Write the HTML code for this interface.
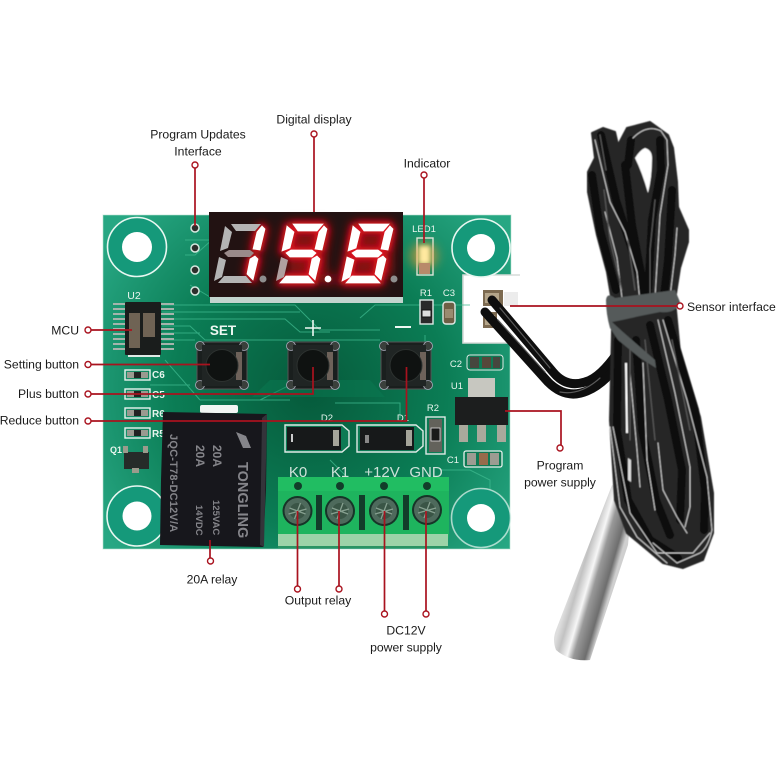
<!DOCTYPE html>
<html><head><meta charset="utf-8"><style>
html,body{margin:0;padding:0;background:#fff;width:779px;height:779px;overflow:hidden}
svg{display:block}
text{font-family:"Liberation Sans",sans-serif}
.l{font-size:12.2px;fill:#1a1a1a}
.s{fill:#e8f5ee;font-size:9.5px}
.p{stroke:#a9121e;stroke-width:1.7;fill:none}
.c{stroke:#a9121e;stroke-width:1.4;fill:#fff}
.tr{stroke:#3fb98f;stroke-width:1;fill:none;opacity:.75}
.rl{fill:#85858a;font-weight:bold}
.wire{fill:none;stroke:#0e0e0e;stroke-linecap:round;stroke-linejoin:round}
.hl{fill:none;stroke:#cfcfcf;stroke-width:1;stroke-linecap:round;stroke-linejoin:round}
.hg{fill:none;stroke:#5a5a5a;stroke-width:1.2;stroke-linecap:round;stroke-linejoin:round}
.dk{fill:none;stroke:#070707;stroke-width:8;stroke-linecap:round;stroke-linejoin:round}
</style></head><body>
<svg width="779" height="779" viewBox="0 0 779 779" xmlns="http://www.w3.org/2000/svg">
<defs>
<radialGradient id="pcb" gradientUnits="userSpaceOnUse" cx="310" cy="390" r="250">
<stop offset="0" stop-color="#065a3b"/><stop offset=".55" stop-color="#0b7d55"/><stop offset="1" stop-color="#27a783"/></radialGradient>
<linearGradient id="probe" gradientUnits="userSpaceOnUse" x1="577" y1="565" x2="615" y2="576">
<stop offset="0" stop-color="#dedede"/><stop offset=".17" stop-color="#c2c2c2"/><stop offset=".4" stop-color="#f6f6f6"/><stop offset=".56" stop-color="#999"/><stop offset=".85" stop-color="#6e6e6e"/><stop offset="1" stop-color="#cfcfcf"/></linearGradient>
<filter id="b8" x="-50%" y="-50%" width="200%" height="200%"><feGaussianBlur stdDeviation="5"/></filter>
<filter id="b6" x="-50%" y="-50%" width="200%" height="200%"><feGaussianBlur stdDeviation="3"/></filter>
<filter id="b2" x="-50%" y="-50%" width="200%" height="200%"><feGaussianBlur stdDeviation="2"/></filter>
<filter id="soft" x="-5%" y="-5%" width="110%" height="110%"><feGaussianBlur stdDeviation=".55"/></filter>
<polygon id="a" points="231,224 261,224 255,231 236,231"/>
<polygon id="f" points="225,226 232,232 228,248 220,251"/>
<polygon id="e" points="219,257 226,260 222,277 214,281"/>
<polygon id="g" points="224,253 229,250 250,250 254,253 250,257 228,257"/>
<polygon id="b" points="262,226 265,229 260,250 253,249 257,232"/>
<polygon id="cc" points="255,256 258,259 253,280 247,274 250,259"/>
<polygon id="d" points="224,276 246,276 252,283 218,283"/>
<g id="btn">
<rect x="0" y="0" width="50" height="47" rx="3" fill="#1a1f1e" stroke="#555" stroke-width="1"/>
<circle cx="3" cy="4" r="4.5" fill="#3a403c" stroke="#aab" stroke-width=".8"/><circle cx="47" cy="4" r="4.5" fill="#3a403c" stroke="#aab" stroke-width=".8"/>
<circle cx="3" cy="43" r="4.5" fill="#3a403c" stroke="#aab" stroke-width=".8"/><circle cx="47" cy="43" r="4.5" fill="#3a403c" stroke="#aab" stroke-width=".8"/>
<rect x="5" y="3" width="40" height="41" fill="#202524"/>
<rect x="39" y="10" width="6" height="28" fill="#6e625a"/>
<circle cx="25" cy="23.5" r="16" fill="#0f1211" stroke="#2d3230" stroke-width="1"/>
</g>
<g id="smd"><rect x="0" y="0" width="25" height="10" fill="none" stroke="#e8f2ee" stroke-width="1.4"/><rect x="2" y="2" width="7" height="6" fill="#9a9a90"/><rect x="16" y="2" width="7" height="6" fill="#9a9a90"/><rect x="9" y="2" width="7" height="6" fill="#222"/></g>
<g id="sc"><circle r="15" fill="#173428"/><circle r="13" fill="#4e6a5c"/><circle r="8" fill="#3a5546"/><path d="M-8 -3L8 3M-3 8L3 -8M-9 3L9 -2" stroke="#87a090" stroke-width="1.3"/></g>
</defs>

<!-- PCB -->
<path d="M103 215 H511 V276 H463 V343 H510 V549 H103 Z" fill="url(#pcb)"/>
<path d="M103 215 H511 V276 H463 V343 H510 V549 H103 Z" fill="none" stroke="#b6e3d1" stroke-width="1" opacity=".6"/>
<!-- connector -->
<path d="M463 275 H520 V343 H463 Z" fill="#fff"/>
<path d="M520 275 H463 V343 H520" fill="none" stroke="#d6dbd8" stroke-width="1.6"/>
<rect x="483" y="290" width="20" height="16" fill="#7c6a50"/><rect x="485" y="293" width="14" height="10" fill="#b4a58a"/>
<rect x="483" y="312" width="14" height="16" fill="#7c6a50"/><rect x="485" y="315" width="10" height="10" fill="#b4a58a"/>
<rect x="504" y="292" width="14" height="14" fill="#ececec"/>

<!-- traces -->
<path class="tr" d="M162 305 H295 L320 330 H380M162 312 H300 M162 319 H285 L300 332 H330M162 326 H190 L205 340 H380M162 333 H200M162 340 H195 M185 240 H250 M185 255 H195 L240 215M190 285 L215 300M360 318 L375 305 H470M330 460 L350 480M335 403 H400 V418M440 470 H470 L490 480V500M150 385 H190M165 360 L200 400M200 400 H290M260 400 L300 380M425 335 V345"/>
<path d="M252 397 L270 380 H370 L385 397Z" fill="#0a7a52" opacity=".5"/>

<!-- mounting holes -->
<g fill="#15997a" stroke="#e8f7f1" stroke-width="1.6">
<circle cx="137" cy="247" r="29.5"/><circle cx="481" cy="248" r="29"/><circle cx="137" cy="516" r="30"/><circle cx="481" cy="518" r="29.5" stroke-opacity=".7"/></g>
<g fill="#fff"><circle cx="137" cy="247" r="15"/><circle cx="481" cy="248" r="14"/><circle cx="137" cy="516" r="14.5"/><circle cx="481" cy="518" r="14"/></g>

<!-- header pads -->
<g fill="#2d2f2c" stroke="#d5e8df" stroke-width="1.5"><circle cx="195" cy="228" r="4"/><circle cx="195" cy="248" r="4"/><circle cx="195" cy="270" r="4"/><circle cx="195" cy="291" r="4"/></g>

<!-- display -->
<rect x="210" y="297" width="193" height="6" fill="#c3d4ce"/>
<rect x="209" y="212" width="194" height="85" fill="#221212"/>
<rect x="288" y="232" width="38" height="44" fill="#7a1519" filter="url(#b8)"/>
<rect x="354" y="232" width="38" height="44" fill="#7a1519" filter="url(#b8)"/>
<g filter="url(#b8)" fill="#b01018" stroke="#c00e18" stroke-width="5">
<use href="#b"/><use href="#cc"/>
<g transform="translate(62,0)"><use href="#a"/><use href="#f"/><use href="#g"/><use href="#b"/><use href="#cc"/><use href="#d"/><circle cx="266" cy="279" r="3"/></g>
<g transform="translate(128,0)"><use href="#a"/><use href="#f"/><use href="#e"/><use href="#g"/><use href="#b"/><use href="#cc"/><use href="#d"/></g>
</g>
<g filter="url(#b6)" fill="#e01420" stroke="#e01420" stroke-width="3">
<use href="#b"/><use href="#cc"/>
<g transform="translate(62,0)"><use href="#a"/><use href="#f"/><use href="#g"/><use href="#b"/><use href="#cc"/><use href="#d"/></g>
<g transform="translate(128,0)"><use href="#a"/><use href="#f"/><use href="#e"/><use href="#g"/><use href="#b"/><use href="#cc"/><use href="#d"/></g>
</g>
<g fill="#b4b4b4"><use href="#a"/><use href="#f"/><use href="#e"/><use href="#d"/><use href="#g" fill="#9a8a8a"/><circle cx="263" cy="279" r="3.5" fill="#8e8e8e"/>
<use href="#e" transform="translate(62,0)" fill="#b0a0a0"/>
<circle cx="394" cy="279" r="3.5" fill="#8e8e8e"/></g>
<g fill="#fff" stroke="#fff" stroke-width=".8">
<use href="#b"/><use href="#cc"/>
<g transform="translate(62,0)"><use href="#a"/><use href="#f"/><use href="#g"/><use href="#b"/><use href="#cc"/><use href="#d"/><circle cx="266" cy="279" r="3"/></g>
<g transform="translate(128,0)"><use href="#a"/><use href="#f"/><use href="#e"/><use href="#g"/><use href="#b"/><use href="#cc"/><use href="#d"/></g>
</g>

<!-- LED -->
<rect x="417" y="238" width="16" height="37" fill="none" stroke="#dbe9e2" stroke-width="1.4"/>
<circle cx="424" cy="256" r="14" fill="#ff9a2e" opacity=".55" filter="url(#b8)"/>
<rect x="419" y="246" width="11" height="18" fill="#ffe9a0" filter="url(#b2)"/>
<rect x="419" y="263" width="11" height="11" fill="#b88a6a"/>
<text class="s" x="424" y="232" text-anchor="middle" font-size="10">LED1</text>

<!-- R1 C3 -->
<rect x="420" y="300" width="13" height="24" fill="#2a2a2a" stroke="#dfe9e5" stroke-width="1.4"/><rect x="422" y="310" width="9" height="7" fill="#ddd" stroke="#111"/>
<rect x="443" y="302" width="12" height="22" rx="3" fill="#6e5f45" stroke="#dfe9e5" stroke-width="1.4"/><rect x="445" y="309" width="8" height="9" fill="#9a8b70"/>
<text class="s" x="426" y="296" text-anchor="middle">R1</text><text class="s" x="449" y="296" text-anchor="middle">C3</text>

<!-- U2 -->
<g fill="#a4b4ac"><rect x="113" y="303" width="13" height="2"/><rect x="113" y="308" width="13" height="2"/><rect x="113" y="313" width="13" height="2"/><rect x="113" y="318" width="13" height="2"/><rect x="113" y="323" width="13" height="2"/><rect x="113" y="328" width="13" height="2"/><rect x="113" y="333" width="13" height="2"/><rect x="113" y="338" width="13" height="2"/><rect x="113" y="343" width="13" height="2"/><rect x="113" y="348" width="13" height="2"/>
<rect x="160" y="303" width="14" height="2"/><rect x="160" y="308" width="14" height="2"/><rect x="160" y="313" width="14" height="2"/><rect x="160" y="318" width="14" height="2"/><rect x="160" y="323" width="14" height="2"/><rect x="160" y="328" width="14" height="2"/><rect x="160" y="333" width="14" height="2"/><rect x="160" y="338" width="14" height="2"/><rect x="160" y="343" width="14" height="2"/><rect x="160" y="348" width="14" height="2"/></g>
<rect x="125" y="302" width="36" height="53" rx="1" fill="#1a1d1c"/>
<rect x="129" y="313" width="11" height="35" fill="#6f6354"/><rect x="143" y="313" width="12" height="24" fill="#6f6354"/>
<text x="134" y="299" text-anchor="middle" fill="#e8f5ee" font-size="10.5">U2</text>
<rect x="128" y="355" width="32" height="2" fill="#dfe9e5"/>

<text x="223" y="335" text-anchor="middle" fill="#eef8f3" font-size="13.5" font-weight="bold">SET</text>
<path d="M305 328 H321 M313 320 V336" stroke="#eef8f3" stroke-width="1.6" fill="none"/>
<path d="M395 327 H411" stroke="#eef8f3" stroke-width="2" fill="none"/>

<!-- buttons -->
<use href="#btn" x="197" y="342"/><use href="#btn" x="288" y="342"/><use href="#btn" x="381" y="342"/>

<!-- small parts left -->
<use href="#smd" x="125" y="370"/><use href="#smd" x="125" y="389"/><use href="#smd" x="125" y="408"/><use href="#smd" x="125" y="428"/>
<g fill="#e8f5ee" font-size="10" font-weight="bold"><text x="152" y="378">C6</text><text x="152" y="398">C5</text><text x="152" y="417">R6</text><text x="152" y="437">R5</text><text x="110" y="453" font-size="9">Q1</text></g>
<rect x="124" y="452" width="25" height="17" fill="#262b29"/><rect x="123" y="446" width="5" height="7" fill="#9b9b8c"/><rect x="143" y="446" width="5" height="7" fill="#9b9b8c"/><rect x="132" y="468" width="7" height="5" fill="#9b9b8c"/>
<rect x="200" y="405" width="38" height="8" rx="2" fill="#f1f5f3"/>

<!-- relay -->
<path d="M163 412 L267 414 L266 490 L263 547 L160 545 L161 480 Z" fill="#17171c"/>
<path d="M267 414 L262 418 L260 545 L264 547Z" fill="#34343a"/>
<g class="rl">
<text transform="translate(238,462) rotate(90)" font-size="14.5">TONGLING</text>
<text transform="translate(213,445) rotate(90)" font-size="12">20A</text>
<text transform="translate(213,500) rotate(90)" font-size="9.5">125VAC</text>
<text transform="translate(196,445) rotate(90)" font-size="12">20A</text>
<text transform="translate(196,505) rotate(90)" font-size="9.5">14VDC</text>
<text transform="translate(170,434) rotate(90)" font-size="11" letter-spacing=".2">JQC-T78-DC12V/A</text>
</g>
<path d="M236 432 L243 448 H251 L246 436 Z M241 432 L252 446" fill="#85858a"/>

<!-- diodes -->
<path d="M285 425 H342 L349 431 V446 L342 452 H285 Z" fill="#0d7a54" stroke="#dfe9e5" stroke-width="1.4"/>
<path d="M357 425 H416 L423 431 V446 L416 452 H357 Z" fill="#0d7a54" stroke="#dfe9e5" stroke-width="1.4"/>
<rect x="287" y="427" width="54" height="23" fill="#17191a"/><rect x="360" y="427" width="54" height="23" fill="#17191a"/>
<rect x="333" y="430" width="6" height="16" fill="#a5a59a"/><rect x="406" y="430" width="6" height="16" fill="#a5a59a"/><rect x="365" y="435" width="4" height="8" fill="#888"/><rect x="291" y="434" width="2" height="8" fill="#ccc"/>
<text class="s" x="327" y="421" text-anchor="middle" font-size="10">D2</text><text class="s" x="403" y="421" text-anchor="middle" font-size="10">D1</text>
<rect x="426" y="417" width="19" height="37" fill="none" stroke="#dfe9e5" stroke-width="1.4"/><rect x="429" y="419" width="13" height="33" fill="#63625b"/><rect x="431" y="428" width="9" height="13" fill="#1a1a1a" stroke="#ddd" stroke-width=".8"/>
<text class="s" x="433" y="411" text-anchor="middle">R2</text>

<!-- U1 -->
<rect x="468" y="378" width="27" height="20" fill="#c7c7c0"/>
<rect x="455" y="397" width="53" height="28" fill="#1c1e1e"/>
<rect x="459" y="425" width="9" height="17" fill="#a9a99c"/><rect x="477" y="425" width="9" height="17" fill="#a9a99c"/><rect x="497" y="425" width="9" height="17" fill="#a9a99c"/>
<text class="s" x="457" y="389" text-anchor="middle">U1</text>
<rect x="467" y="355" width="36" height="15" rx="3" fill="#0d7a54" stroke="#dfe9e5" stroke-width="1"/><rect x="470" y="357" width="9" height="11" fill="#46463e"/><rect x="482" y="357" width="9" height="11" fill="#57473a"/><rect x="493" y="357" width="7" height="11" fill="#46463e"/>
<text class="s" x="456" y="367" text-anchor="middle">C2</text>
<rect x="464" y="451" width="38" height="16" rx="2" fill="#0d7a54" stroke="#e8f2ee" stroke-width="1.3"/><rect x="467" y="453" width="9" height="12" fill="#9c9c92"/><rect x="479" y="453" width="9" height="12" fill="#966b4b"/><rect x="490" y="453" width="9" height="12" fill="#9c9c92"/>
<text class="s" x="453" y="463" text-anchor="middle">C1</text>

<!-- terminal -->
<path d="M278 477 H449 V534 L447 548 H278 Z" fill="#1eb45e"/>
<rect x="278" y="477" width="171" height="14" fill="#21bd62"/>
<rect x="278" y="534" width="170" height="13" fill="#9cd3a8"/>
<rect x="278" y="546" width="170" height="2" fill="#2a9463"/>
<g fill="#123d2a"><circle cx="298" cy="486" r="4"/><circle cx="340" cy="486" r="4"/><circle cx="384" cy="486" r="4"/><circle cx="427" cy="486" r="4"/><rect x="316" y="495" width="6" height="35"/><rect x="359" y="495" width="6" height="35"/><rect x="403" y="495" width="6" height="35"/></g>
<use href="#sc" x="297.5" y="511"/><use href="#sc" x="340" y="511"/><use href="#sc" x="384" y="511"/><use href="#sc" x="427" y="510"/>
<g fill="#cfe2d9" font-size="15" text-anchor="middle"><text x="298" y="477">K0</text><text x="340" y="477">K1</text><text x="382" y="477">+12V</text><text x="426" y="477">GND</text></g>

<!-- short cable -->
<path class="wire" stroke-width="9" d="M492 300 L553 372 Q566 388 585 382 Q600 378 618 352"/>
<path class="wire" stroke-width="9" d="M485 312 L548 382 Q566 400 587 391 Q604 384 620 362"/>
<path class="hg" d="M498 320 L545 372 M500 308 L550 368 M560 392 Q580 396 600 378"/>

<!-- probe -->
<path d="M612 485 L632 500 L628 545 L590 660 Q570 662 556 650 Q552 640 556 630 Z" fill="url(#probe)"/>

<!-- cable bundle -->
<g filter="url(#soft)">
<path d="M592 133 L603 128 L615 132 L618 145 L627 128 L650 122 L668 135 L673 148 L677 182 L678 207 L688 230 L688 242 L680 268 L675 300 L680 353 L700 417 L713 493 L713 533 L703 560 L683 568 L663 563 L627 533 L615 500 L610 420 L612 333 L612 302 L607 272 L597 235 L588 192 L588 172 L595 158 Z" fill="#262626" stroke="#262626" stroke-width="2" stroke-linejoin="round"/>
<path class="dk" d="M601 135 L616 200 L632 250 L646 298"/>
<path class="dk" d="M592 175 L600 230 L616 290"/>
<path class="dk" d="M625 165 L632 225 L645 295"/>
<path class="dk" d="M660 140 L661 170 L652 220 L648 295"/>
<path class="dk" d="M672 190 L668 260 L664 296"/>
<path class="dk" d="M631 140 L628 165"/>
<path class="dk" d="M668 320 L695 410 L705 490 L704 530"/>
<path class="dk" d="M650 325 L668 400 L682 470 L680 520"/>
<path class="dk" d="M636 340 L642 430 L656 500 L670 535"/>
<path class="dk" d="M618 340 L617 430 L628 500 L650 540 L678 558"/>
<path d="M635 158 Q640 150 645 148 Q652 150 652 158 Q652 178 648 193 Q642 172 635 158 Z" fill="#fff"/>
<path d="M625 363 L627 363 L628 433 L626 433 Z" fill="#fff"/>
<path d="M628 458 L631 460 L631 482 L628 480 Z" fill="#ddd"/>
<path class="hl" d="M595 140 L610 202 L625 232 L637 272 L640 302M633 138 Q647 124 661 131 L667 140 L668 165 L660 215 L658 248 L655 298M605 212 L617 258 L622 298M677 228 L675 255 L670 297"/>
<path class="hl" d="M658 320 L675 393 L690 467 L690 507 L685 527M663 320 L687 400 L707 477 L712 530 Q708 548 700 553 L677 563 L653 543M610 427 L620 507 L637 537 L667 563M630 373 L637 450 L640 487M643 363 L647 460 L655 510M658 443 L663 490 L677 517 L687 533M613 427 L630 513 L657 553 L693 553 L710 533"/>
<path class="hg" d="M604 190 L610 240 L622 290M655 200 L650 250 L650 300M630 340 V440M645 340 L655 440M672 340 L690 430M600 135 L606 170M628 240 L635 290"/>
<path d="M606 300 Q607 292 615 298 L675 290 L680 302 Q676 314 660 312 L640 316 L622 320 L612 322 L623 332 L655 360 L656 368 L640 358 L618 340 L610 328 Q606 314 606 300Z" fill="#555a5a"/>
</g>

<!-- callouts -->
<path class="p" d="M314 137 V212M195 168 V226M424 178 V243M510 306 H677M91 330 H132M91 364.5 H210M91 394 H313 V367M91 421 H406.5 V367M505 411 H561 V445M210 540 V558M297.5 511 V586M339 511 V586M384.5 511 V611M426 511 V611"/>
<g class="c"><circle cx="314" cy="134" r="3"/><circle cx="195" cy="165" r="3"/><circle cx="424" cy="175" r="3"/><circle cx="680" cy="306" r="3"/><circle cx="88" cy="330" r="3"/><circle cx="88" cy="364.5" r="3"/><circle cx="88" cy="394" r="3"/><circle cx="88" cy="421" r="3"/><circle cx="560" cy="448" r="3"/><circle cx="210.5" cy="561" r="3"/><circle cx="297.5" cy="589" r="3"/><circle cx="339" cy="589" r="3"/><circle cx="384.5" cy="614" r="3"/><circle cx="426" cy="614" r="3"/></g>

<g class="l">
<text x="314" y="123.5" text-anchor="middle">Digital display</text>
<text x="198" y="138.5" text-anchor="middle">Program Updates</text>
<text x="198" y="155.5" text-anchor="middle">Interface</text>
<text x="427" y="167.5" text-anchor="middle">Indicator</text>
<text x="687" y="311">Sensor interface</text>
<text x="79" y="334.5" text-anchor="end">MCU</text>
<text x="79" y="368.5" text-anchor="end">Setting button</text>
<text x="79" y="398" text-anchor="end">Plus button</text>
<text x="79" y="424.5" text-anchor="end">Reduce button</text>
<text x="560" y="469.5" text-anchor="middle">Program</text>
<text x="560" y="486.5" text-anchor="middle">power supply</text>
<text x="212" y="583.5" text-anchor="middle">20A relay</text>
<text x="318" y="604.5" text-anchor="middle">Output relay</text>
<text x="406" y="634.5" text-anchor="middle">DC12V</text>
<text x="406" y="651.5" text-anchor="middle">power supply</text>
</g>
</svg>
</body></html>
